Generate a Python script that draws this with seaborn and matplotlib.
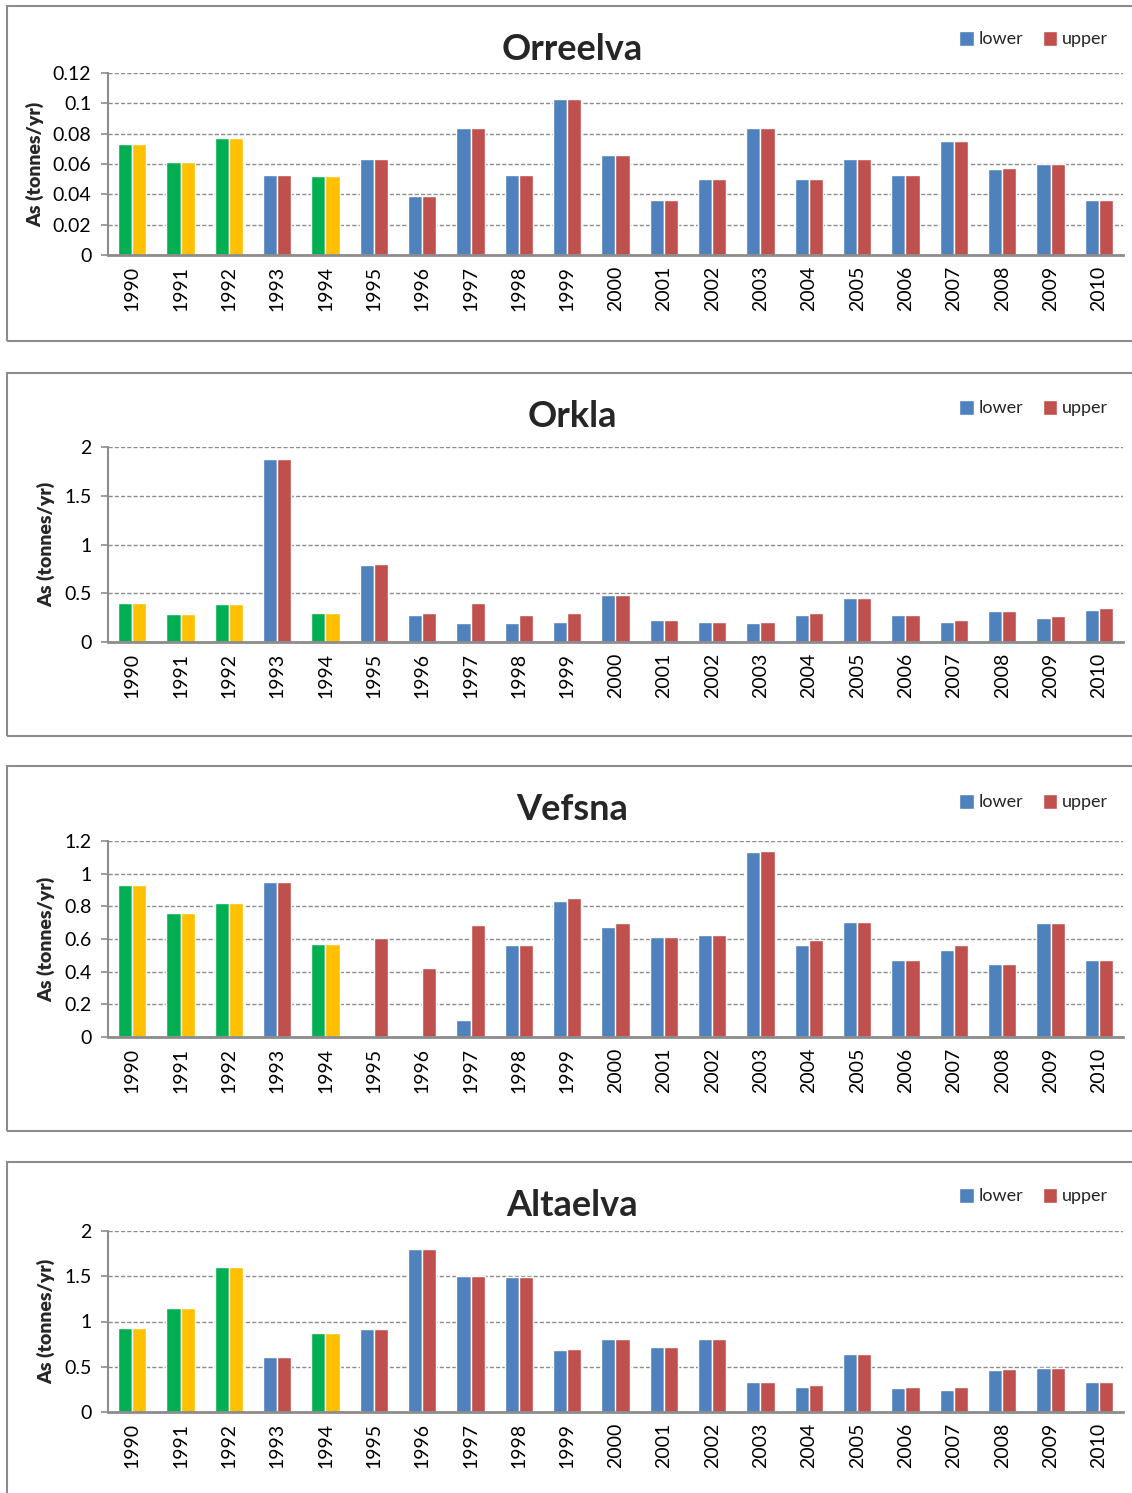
import numpy as np
import pandas as pd
import matplotlib
matplotlib.use('Agg')
import matplotlib.pyplot as plt
import seaborn as sns
from matplotlib.patches import Rectangle, Patch
from matplotlib.ticker import FuncFormatter, MultipleLocator

# ---- data ----
YEARS = [str(y) for y in range(1990, 2011)]
FLAGGED_YEARS = ['1990', '1991', '1992', '1994']   # drawn green / yellow

ORREELVA_LOWER = [0.073, 0.061, 0.077, 0.053, 0.052, 0.063, 0.039, 0.084, 0.053, 0.103, 0.066,
                  0.036, 0.050, 0.084, 0.050, 0.063, 0.053, 0.075, 0.0565, 0.060, 0.036]
ORREELVA_UPPER = [0.073, 0.061, 0.077, 0.053, 0.052, 0.063, 0.039, 0.084, 0.053, 0.103, 0.066,
                  0.036, 0.050, 0.084, 0.050, 0.063, 0.053, 0.075, 0.0576, 0.060, 0.036]

ORKLA_LOWER = [0.40, 0.285, 0.39, 1.88, 0.30, 0.79, 0.28, 0.195, 0.195, 0.21, 0.485,
               0.23, 0.21, 0.195, 0.28, 0.45, 0.28, 0.21, 0.315, 0.245, 0.33]
ORKLA_UPPER = [0.40, 0.285, 0.39, 1.88, 0.30, 0.805, 0.30, 0.40, 0.28, 0.30, 0.485,
               0.23, 0.21, 0.21, 0.30, 0.45, 0.28, 0.23, 0.315, 0.265, 0.35]

VEFSNA_LOWER = [0.93, 0.76, 0.82, 0.95, 0.57, 0.0, 0.0, 0.105, 0.565, 0.83, 0.675,
                0.615, 0.625, 1.13, 0.565, 0.705, 0.47, 0.535, 0.45, 0.695, 0.47]
VEFSNA_UPPER = [0.93, 0.76, 0.82, 0.95, 0.57, 0.605, 0.42, 0.685, 0.565, 0.85, 0.695,
                0.615, 0.625, 1.14, 0.595, 0.705, 0.47, 0.565, 0.45, 0.695, 0.47]

ALTAELVA_LOWER = [0.925, 1.145, 1.60, 0.61, 0.87, 0.92, 1.80, 1.505, 1.49, 0.68, 0.81,
                  0.72, 0.81, 0.335, 0.28, 0.645, 0.26, 0.245, 0.465, 0.485, 0.335]
ALTAELVA_UPPER = [0.925, 1.145, 1.60, 0.61, 0.87, 0.92, 1.80, 1.505, 1.49, 0.70, 0.81,
                  0.72, 0.81, 0.335, 0.295, 0.645, 0.28, 0.28, 0.48, 0.485, 0.335]

TITLES = ['Orreelva', 'Orkla', 'Vefsna', 'Altaelva']
LOWERS = [ORREELVA_LOWER, ORKLA_LOWER, VEFSNA_LOWER, ALTAELVA_LOWER]
UPPERS = [ORREELVA_UPPER, ORKLA_UPPER, VEFSNA_UPPER, ALTAELVA_UPPER]
Y_MAX = [0.12, 2, 1.2, 2]
Y_STEP = [0.02, 0.5, 0.2, 0.5]

# ---- layout (pixels of a 1132x1493 canvas) ----
W, H = 1132, 1493
AX_BOXES = [(108, 73, 1123, 255), (108, 447, 1123, 642), (108, 841, 1123, 1037), (108, 1231, 1123, 1412)]
FRAMES = [(7, 6, 1145, 341), (7, 373, 1145, 736), (7, 766, 1145, 1131), (7, 1162, 1145, 1510)]
TITLE_Y = [49, 416, 809, 1206]
LEGEND_Y = [39, 408, 802, 1196]

BLUE, RED, GREEN, YELLOW = '#4F81BD', '#C0504D', '#00B050', '#FFC000'
GRAY = '#8C8C8C'

sns.set_theme(style='white')
plt.rcParams['font.family'] = ['Lato', 'DejaVu Sans']

fig = plt.figure(figsize=(W / 100, H / 100), dpi=100)

for i, title in enumerate(TITLES):
    x0, y0, x1, y1 = FRAMES[i]
    fig.patches.append(Rectangle((x0 / W, 1 - y1 / H), (x1 - x0) / W, (y1 - y0) / H,
                                 transform=fig.transFigure, fill=False, edgecolor=GRAY, linewidth=1.5))

    l, t, r, b = AX_BOXES[i]
    ax = fig.add_axes([l / W, 1 - b / H, (r - l) / W, (b - t) / H])

    df = pd.DataFrame({
        'year': YEARS * 2,
        'bound': ['lower'] * len(YEARS) + ['upper'] * len(YEARS),
        'value': LOWERS[i] + UPPERS[i],
    })
    sns.barplot(data=df, x='year', y='value', hue='bound', order=YEARS, hue_order=['lower', 'upper'],
                palette=[BLUE, RED], saturation=1, width=0.58, errorbar=None, legend=False, ax=ax)

    # early years are shown in green / yellow
    for bar, yr in zip(ax.containers[0], YEARS):
        if yr in FLAGGED_YEARS:
            bar.set_facecolor(GREEN)
    for bar, yr in zip(ax.containers[1], YEARS):
        if yr in FLAGGED_YEARS:
            bar.set_facecolor(YELLOW)

    ax.set_xlim(-0.5, len(YEARS) - 0.5)
    ax.set_ylim(0, Y_MAX[i])
    ax.yaxis.set_major_locator(MultipleLocator(Y_STEP[i]))
    ax.yaxis.set_major_formatter(FuncFormatter(lambda v, p: f'{round(v, 6):g}'))
    ax.set_axisbelow(True)
    ax.yaxis.grid(True, linestyle=(0, (3, 1.5)), color=GRAY, linewidth=1)
    ax.xaxis.grid(False)

    for s in ['top', 'right']:
        ax.spines[s].set_visible(False)
    ax.spines['left'].set_color(GRAY)
    ax.spines['left'].set_linewidth(1.5)
    ax.spines['bottom'].set_color(GRAY)
    ax.spines['bottom'].set_linewidth(2)

    ax.tick_params(axis='y', left=True, length=5, width=1.2, color=GRAY, pad=7, labelsize=14, labelcolor='black')
    ax.tick_params(axis='x', bottom=False, length=0, pad=8, labelsize=14, labelcolor='black', rotation=90)
    ax.set_xlabel('')
    ax.set_ylabel('As (tonnes/yr)', fontsize=14, fontweight='heavy', labelpad=6)

    fig.text(572 / W, 1 - TITLE_Y[i] / H, title, ha='center', va='center', fontsize=26, fontweight='bold')

    handles = [Patch(facecolor=BLUE), Patch(facecolor=RED)]
    ax.legend(handles, ['lower', 'upper'], loc='center right', bbox_to_anchor=(1117 / W, 1 - LEGEND_Y[i] / H),
              bbox_transform=fig.transFigure, ncol=2, frameon=False, fontsize=13,
              handlelength=0.8, handleheight=0.9, handletextpad=0.25, columnspacing=1.1, borderpad=0)

fig.savefig('out.png', dpi=100)
